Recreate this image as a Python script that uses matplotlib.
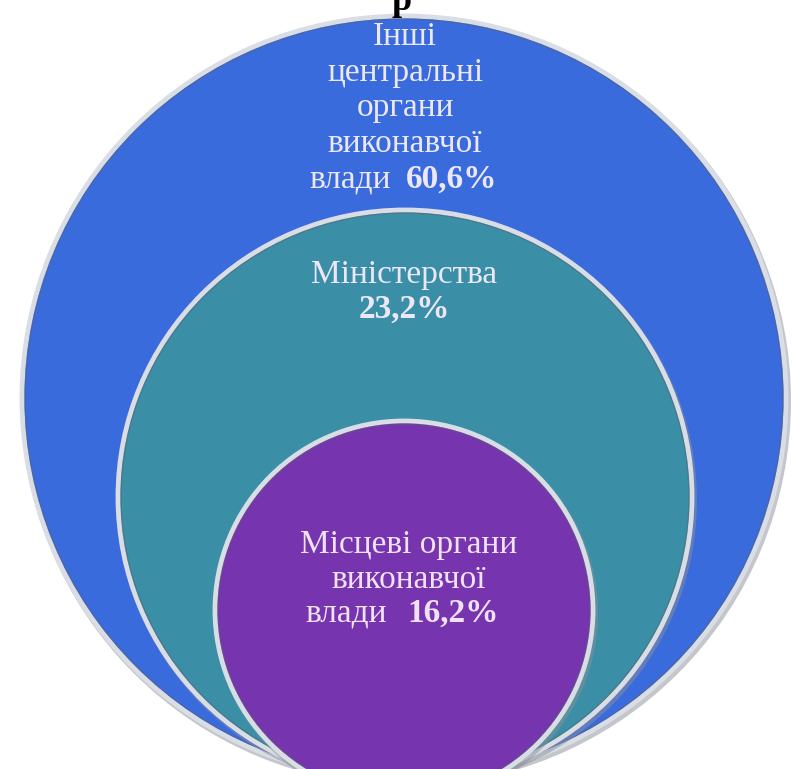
import matplotlib.pyplot as plt
from matplotlib.patches import Circle

# nested groups, from outer to inner
labels = [
    ["Інші", "центральні", "органи", "виконавчої", "влади"],
    ["Міністерства"],
    ["Місцеві органи", "виконавчої", "влади"],
]
shares = ["60,6%", "23,2%", "16,2%"]
colors = ["#3a6bdc", "#3a8fa6", "#7634ae"]

# circle layout in pixels (centre x, centre y, radius)
circles = [(404, 398, 382), (405, 497, 287), (404, 610, 189)]

plt.rcParams["font.family"] = ["Liberation Serif", "DejaVu Serif"]

fig = plt.figure(figsize=(7.93, 7.69), dpi=100)
ax = fig.add_axes([0, 0, 1, 1])
ax.set_xlim(0, 793)
ax.set_ylim(769, 0)
ax.set_aspect("equal")
ax.axis("off")

for (cx, cy, r), c in zip(circles, colors):
    # soft shadow + silver rim
    ax.add_patch(Circle((cx + 2, cy + 3), r + 3, color="#8a8f99", alpha=0.5, lw=0))
    ax.add_patch(Circle((cx, cy), r, facecolor=c, edgecolor="#d9dde6", lw=3.5))
    ax.add_patch(Circle((cx, cy), r - 3, facecolor="none", edgecolor="#5a6070", lw=1, alpha=0.5))

txt = "#ece8fa"
fs = 24
lh = 35.5

# outer circle
for i, line in enumerate(labels[0][:-1]):
    ax.text(405, 45 + i * lh, line, ha="center", va="baseline", color=txt, fontsize=fs)
ax.text(391, 188, labels[0][-1], ha="right", va="baseline", color=txt, fontsize=fs)
ax.text(406, 188, shares[0], ha="left", va="baseline", color=txt, fontsize=fs,
        fontweight="bold")

# middle circle
ax.text(404, 283, labels[1][0], ha="center", va="baseline", color=txt, fontsize=fs)
ax.text(404, 318, shares[1], ha="center", va="baseline", color=txt, fontsize=fs,
        fontweight="bold")

# inner circle
txt2 = "#f0e2f6"
for i, line in enumerate(labels[2][:-1]):
    ax.text(409, 553 + i * lh, line, ha="center", va="baseline", color=txt2, fontsize=fs)
ax.text(387, 622, labels[2][-1], ha="right", va="baseline", color=txt2, fontsize=fs)
ax.text(407, 622, shares[2], ha="left", va="baseline", color=txt2, fontsize=fs,
        fontweight="bold")

# title cut off at the top of the picture
ax.text(402, 2, "р", ha="center", va="center", color="black", fontsize=26,
        fontweight="bold")

fig.savefig("out.png", dpi=100)
